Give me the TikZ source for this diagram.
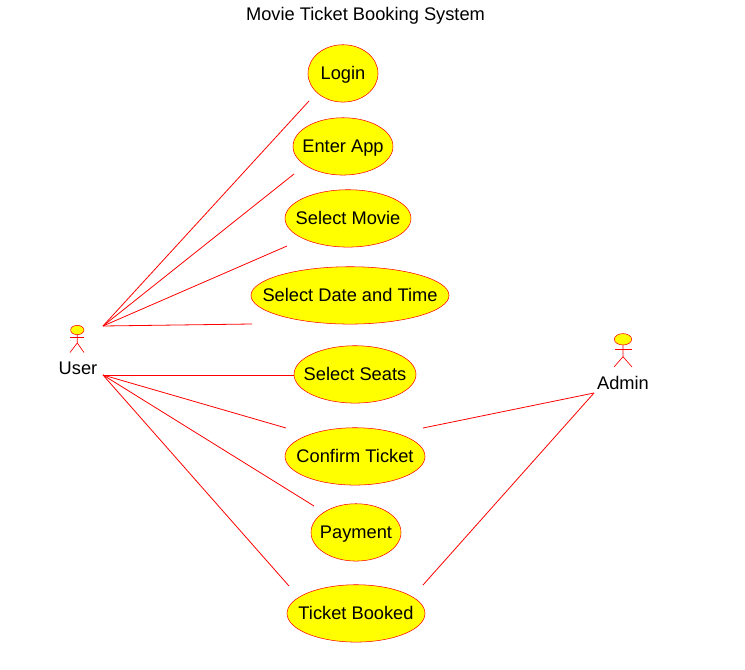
\documentclass[tikz,border=0pt]{standalone}
\usepackage{fontspec}
\setmainfont{Liberation Sans}
\usetikzlibrary{shapes.geometric}
\definecolor{mred}{rgb}{1, 0, 0}
\definecolor{myellow}{rgb}{1, 1, 0}
\tikzset{usecase/.style = {ellipse, draw = mred, fill = myellow, inner xsep = -20pt, inner ysep = 0, text height = 9.6pt, text depth = 0.1pt, minimum height = 43pt, font = \fontsize{13.7}{16}\selectfont},
         head/.style = {ellipse, draw = mred, fill = myellow, inner sep = 0},
         link/.style = {mred, line width = 0.6pt},
         limb/.style = {mred, line width = 0.5pt},
         label/.style = {inner sep = 0, text height = 11pt, text depth = 0.5pt, font = \fontsize{13.7}{16}\selectfont}}

\begin{document}
\begin{tikzpicture}[x = 0.75pt, y = -0.75pt]
    \useasboundingbox (0, 0) rectangle (745, 670);

    \node [label] (title) at (365.5, 14) {Movie Ticket Booking System};

    \node [usecase, minimum width = 52.5pt] (login) at (343, 73.4) {Login};
    \node [usecase, minimum width = 75pt] (enter) at (343, 146.4) {Enter App};
    \node [usecase, minimum width = 94.5pt] (movie) at (348, 218.4) {Select Movie};
    \node [usecase, minimum width = 148.5pt] (date) at (350, 295.4) {Select Date and Time};
    \node [usecase, minimum width = 91.5pt] (seats) at (355, 374.4) {Select Seats};
    \node [usecase, minimum width = 105pt] (confirm) at (355, 456.4) {Confirm Ticket};
    \node [usecase, minimum width = 67.5pt] (payment) at (356, 532.4) {Payment};
    \node [usecase, minimum width = 103.5pt] (booked) at (356, 613.4) {Ticket Booked};

    % actors
    \node [head, minimum width = 10pt, minimum height = 7pt] (userhead) at (77.3, 330) {};
    \node [label] (user) at (78, 367.5) {User};
    \draw [limb] (userhead.south) -- (77.3, 343) -- (70, 352.5);
    \draw [limb] (77.3, 343) -- (84, 352.5);
    \draw [limb] (70, 337.7) -- (84, 337.7);

    \node [head, minimum width = 13pt, minimum height = 8.5pt] (adminhead) at (623, 339.3) {};
    \node [label] (admin) at (623, 382.2) {Admin};
    \draw [limb] (adminhead.south) -- (623, 356.7) -- (614, 367);
    \draw [limb] (623, 356.7) -- (632, 367);
    \draw [limb] (614.5, 349.7) -- (632, 349.7);

    % free ends of the links
    \coordinate (upper) at (103, 326);
    \coordinate (middle) at (103, 375);
    \coordinate (right) at (594, 393);
    \coordinate (loginend) at (309, 101);
    \coordinate (enterend) at (294, 174);
    \coordinate (movieend) at (287, 246);
    \coordinate (dateend) at (252, 324);
    \coordinate (seatsend) at (294, 375);
    \coordinate (confirmend) at (286, 428);
    \coordinate (paymentend) at (314, 506);
    \coordinate (bookedend) at (289, 586);
    \coordinate (confirmright) at (423, 428);
    \coordinate (bookedright) at (423, 585);

    \foreach \e in {login, enter, movie, date}
      \draw [link] (upper) -- (\e end);
    \foreach \e in {seats, confirm, payment, booked}
      \draw [link] (middle) -- (\e end);
    \draw [link] (right) -- (confirmright);
    \draw [link] (right) -- (bookedright);
  \end{tikzpicture}
\end{document}
